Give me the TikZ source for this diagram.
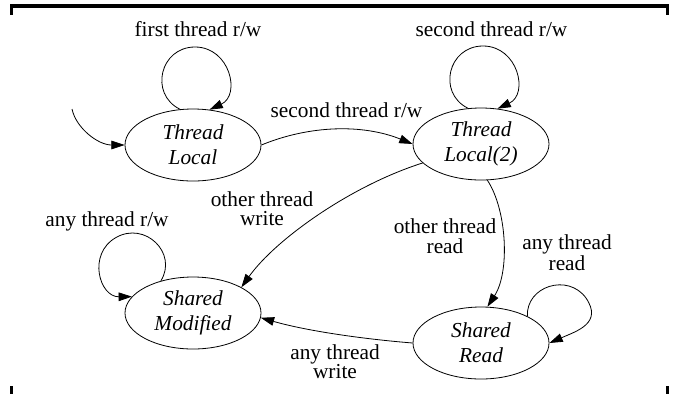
\documentclass[tikz,border=0pt]{standalone}
\usepackage{fontspec}
\setmainfont{Liberation Serif}
\usetikzlibrary{shapes.geometric,arrows.meta,calc}

\begin{document}
\begin{tikzpicture}[x=0.75pt, y=-0.75pt]

\tikzset{
state/.style={ellipse,draw,line width=0.6pt,minimum width=102pt,minimum height=54pt,inner sep=0pt,align=center,font=\fontsize{16}{19}\selectfont\itshape},
trans/.style={-{Triangle[length=10pt,width=6.5pt]},line width=0.6pt},
lab/.style={align=center,anchor=base,inner sep=0pt,font=\fontsize{16}{14.5}\selectfont},
crop/.style={line width=1.9pt}
}

\useasboundingbox (0,0) rectangle (681,394);

% Nodes
\node[state] (tlocal)  at (193,145) {Thread\\Local};
\node[state] (tlocal2) at (481,144) {Thread\\Local(2)};
\node[state] (smod)    at (193,313) {Shared\\Modified};
\node[state] (sread)   at (481,343) {Shared\\Read};

\coordinate (entry) at (72,109);

% Arrows
\draw[trans] (entry) .. controls (76,128) and (98,145) .. (tlocal.west);
\draw[trans] (tlocal.110) .. controls (149,94) and (160,47) .. (195,47) .. controls (230,47) and (241,95) .. (tlocal.65);
\draw[trans] (tlocal2.110) .. controls (437,93) and (448,46) .. (483,46) .. controls (518,46) and (529,94) .. (tlocal2.65);
\draw[trans] (tlocal.east) .. controls (310,125) and (363,124) .. (tlocal2.west);
\draw[trans] (tlocal2.198) .. controls (350,186) and (275,240) .. (smod.28);
\draw[trans] (tlocal2.280) .. controls (507,210) and (510,272) .. (sread.80);
\draw[trans] (sread.30) .. controls (526,286) and (568,273) .. (586,298) .. controls (603,323) and (577,331) .. (sread.east);
\draw[trans] (sread.west) .. controls (363,339) and (307,331) .. (smod.-4);
\draw[trans] (smod.135) .. controls (178,253) and (145,221) .. (116,237.5) .. controls (87,254) and (99.5,297) .. (smod.165);

% Labels (multi-line: base is the last line)
\node[lab] (lab1) at (198,36) {first thread r/w};
\node[lab] (lab2) at (491.5,36.5) {second thread r/w};
\node[lab] (lab3) at (346.5,117) {second thread r/w};
\node[lab] (lab4) at (262,225.5) {other thread\\write};
\node[lab] (lab5) at (445,253) {other thread\\read};
\node[lab] (lab6) at (567,270.5) {any thread\\read};
\node[lab] (lab7) at (107,226) {any thread r/w};
\node[lab] (lab8) at (335,378.5) {any thread\\write};

% Frame
\draw[line width=3.2pt] (10,6.2) -- (669,6.2);
\draw[crop] (11.5,4) -- (11.5,15);
\draw[crop] (667.5,4) -- (667.5,15);
\draw[crop] (11.5,386) -- (11.5,394);
\draw[crop] (667.5,386) -- (667.5,394);

\end{tikzpicture}
\end{document}
